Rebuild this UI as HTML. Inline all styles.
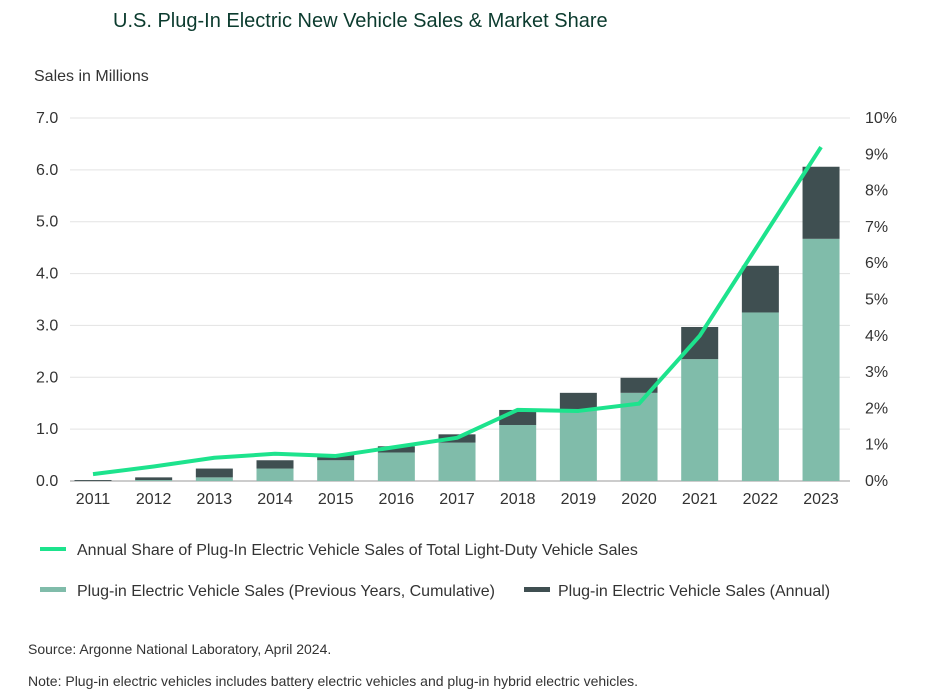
<!DOCTYPE html>
<html><head><meta charset="utf-8"><style>
body{margin:0;background:#fff;font-family:"Liberation Sans",sans-serif;}
svg text{font-family:"Liberation Sans",sans-serif;}
</style></head><body>
<svg width="928" height="695" xmlns="http://www.w3.org/2000/svg">
<text x="113" y="27" font-size="20" fill="#0b3b2e">U.S. Plug-In Electric New Vehicle Sales &amp; Market Share</text>
<text x="34" y="81" font-size="16" fill="#333">Sales in Millions</text>
<g id="grid"></g><g id="bars"></g><g id="line"></g><g id="labels"></g>
<g>
<line x1="40" y1="549" x2="66" y2="549" stroke="#1de38d" stroke-width="4"/>
<text x="77" y="555" font-size="16" fill="#333">Annual Share of Plug-In Electric Vehicle Sales of Total Light-Duty Vehicle Sales</text>
<rect x="40" y="587" width="26" height="5" fill="#80bcaa"/>
<text x="77" y="596" font-size="16" fill="#333">Plug-in Electric Vehicle Sales (Previous Years, Cumulative)</text>
<rect x="524" y="587" width="26" height="5" fill="#3f4f51"/>
<text x="558" y="596" font-size="16" fill="#333">Plug-in Electric Vehicle Sales (Annual)</text>
</g>
<text x="28" y="654" font-size="14" fill="#333">Source: Argonne National Laboratory, April 2024.</text>
<text x="28" y="686" font-size="14" fill="#333">Note: Plug-in electric vehicles includes battery electric vehicles and plug-in hybrid electric vehicles.</text>
</svg>
<script>
const years=["2011","2012","2013","2014","2015","2016","2017","2018","2019","2020","2021","2022","2023"];
const cumulative=[0,0.018,0.07,0.24,0.4,0.55,0.74,1.08,1.37,1.7,2.35,3.25,4.67];
const annual=[0.018,0.052,0.17,0.16,0.11,0.12,0.16,0.29,0.33,0.29,0.62,0.9,1.39];
const share=[0.19,0.4,0.64,0.75,0.69,0.94,1.19,1.96,1.93,2.13,4.0,6.6,9.2];
const leftTicks=["0.0","1.0","2.0","3.0","4.0","5.0","6.0","7.0"];
const rightTicks=["0%","1%","2%","3%","4%","5%","6%","7%","8%","9%","10%"];
const NS="http://www.w3.org/2000/svg";
const y0=481,yTop=118,plotL=70,plotR=850;
const yL=v=>y0-(v/7)*(y0-yTop);
const yR=v=>y0-(v/10)*(y0-yTop);
const xB=i=>93+i*60.67;
function mk(t,a,p){const e=document.createElementNS(NS,t);for(const k in a)e.setAttribute(k,a[k]);document.getElementById(p).appendChild(e);return e;}
leftTicks.forEach((t,i)=>{const v=parseFloat(t);
 const g=mk("line",{x1:plotL,x2:plotR,y1:yL(v),y2:yL(v),stroke:i==0?"#999":"#e3e3e3","stroke-width":1},"grid");
 
 
 const tx=mk("text",{x:36,y:yL(v)+5,"font-size":16,fill:"#333"},"labels");tx.textContent=t;
 
 });
rightTicks.forEach((t,i)=>{const tx=mk("text",{x:865,y:yR(i)+5,"font-size":16,fill:"#333"},"labels");tx.textContent=t;
 
 });
years.forEach((yr,i)=>{const x=xB(i),w=37;
 const r1=mk("rect",{x:x-w/2,y:yL(cumulative[i]),width:w,height:y0-yL(cumulative[i]),fill:"#80bcaa"},"bars");
 
 
 const top=cumulative[i]+annual[i];
 const r2=mk("rect",{x:x-w/2,y:yL(top),width:w,height:yL(cumulative[i])-yL(top),fill:"#3f4f51"},"bars");
 
 
 const tx=mk("text",{x:x,y:504,"font-size":16,fill:"#333","text-anchor":"middle"},"labels");tx.textContent=yr;
 
 });
const pl=mk("polyline",{points:share.map((v,i)=>xB(i)+","+yR(v)).join(" "),fill:"none",stroke:"#1de38d","stroke-width":4,"stroke-linejoin":"round"},"line");


</script>
</body></html>
